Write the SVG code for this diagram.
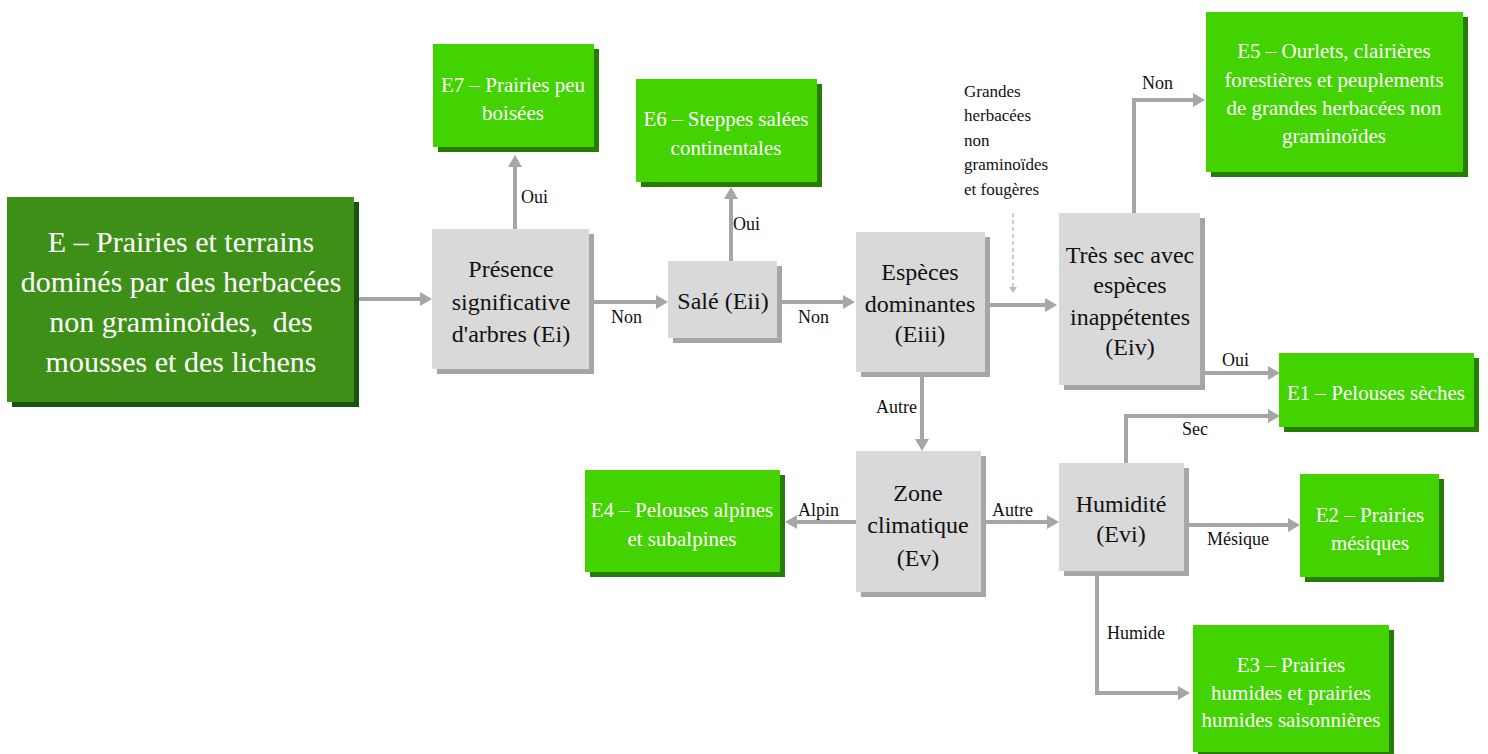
<svg xmlns="http://www.w3.org/2000/svg" width="1488" height="754" viewBox="0 0 1488 754" font-family="'Liberation Serif', 'Times New Roman', serif">
  <style>
    .shadow-dark { fill: #1e520a; }
    .shadow-green { fill: #277c02; }
    .shadow-gray { fill: #a6a6a6; }
    .root { fill: #3d8f17; }
    .leaf { fill: #43d300; }
    .test { fill: #d9d9d9; }
    .t-root { font-family: 'Liberation Serif', serif; font-size: 30px; fill: #ffffff; text-anchor: middle; }
    .t-leaf { font-family: 'Liberation Serif', serif; font-size: 21px; fill: #ffffff; text-anchor: middle; }
    .t-test { font-family: 'Liberation Serif', serif; font-size: 24px; fill: #111111; text-anchor: middle; }
    .t-lab { font-family: 'Liberation Serif', serif; font-size: 18px; fill: #111111; }
    .t-note { font-family: 'Liberation Serif', serif; font-size: 17px; fill: #111111; }
    .link { fill: none; stroke: #a6a6a6; stroke-width: 4; marker-end: url(#head); }
    .hint { fill: none; stroke: #bdbdbd; stroke-width: 1.5; stroke-dasharray: 4 3; marker-end: url(#head-small); }
  </style>
  <defs>
    <marker id="head" viewBox="0 -7 12 14" refX="0" refY="0" markerWidth="12" markerHeight="14" markerUnits="userSpaceOnUse" orient="auto">
      <path d="M0,-7 L12,0 L0,7 z" fill="#a6a6a6"/>
    </marker>
    <marker id="head-small" viewBox="0 -4 6 8" refX="0" refY="0" markerWidth="6" markerHeight="8" markerUnits="userSpaceOnUse" orient="auto">
      <path d="M0,-4 L6,0 L0,4 z" fill="#bdbdbd"/>
    </marker>
  </defs>

  <!-- connectors -->
  <g id="connectors">
    <path class="link" d="M358,299 H420"/>
    <path class="link" d="M515,229 V167"/>
    <path class="link" d="M593,302 H656"/>
    <path class="link" d="M731,261 V199"/>
    <path class="link" d="M782,302 H843"/>
    <path class="link" d="M989,305 H1045"/>
    <path class="link" d="M1134,213 V100 H1193"/>
    <path class="link" d="M1205,373 H1268"/>
    <path class="link" d="M922,377 V439"/>
    <path class="link" d="M856,522 H797"/>
    <path class="link" d="M986,522 H1047"/>
    <path class="link" d="M1126,463 V416 H1268"/>
    <path class="link" d="M1189,525 H1288"/>
    <path class="link" d="M1097,576 V693 H1178"/>
    <path class="hint" d="M1013,213 V287"/>

    <text class="t-lab" x="521" y="203">Oui</text>
    <text class="t-lab" x="611" y="323">Non</text>
    <text class="t-lab" x="733" y="230">Oui</text>
    <text class="t-lab" x="798" y="323">Non</text>
    <text class="t-lab" x="1142" y="89">Non</text>
    <text class="t-lab" x="1222" y="366">Oui</text>
    <text class="t-lab" x="876" y="413">Autre</text>
    <text class="t-lab" x="798" y="516">Alpin</text>
    <text class="t-lab" x="992" y="516">Autre</text>
    <text class="t-lab" x="1182" y="435">Sec</text>
    <text class="t-lab" x="1207" y="545">Mésique</text>
    <text class="t-lab" x="1107" y="639">Humide</text>

    <g id="note-grandes">
      <text class="t-note" x="964" y="97">Grandes</text>
      <text class="t-note" x="964" y="121">herbacées</text>
      <text class="t-note" x="964" y="146">non</text>
      <text class="t-note" x="964" y="170">graminoïdes</text>
      <text class="t-note" x="964" y="195">et fougères</text>
    </g>
  </g>

  <!-- root -->
  <g id="node-E">
    <rect class="shadow-dark" x="12" y="202" width="347" height="205"/>
    <rect class="root" x="7" y="197" width="347" height="205"/>
    <text class="t-root" x="181" y="252">E – Prairies et terrains</text>
    <text class="t-root" x="181" y="292">dominés par des herbacées</text>
    <text class="t-root" x="181" y="332" xml:space="preserve">non graminoïdes,  des</text>
    <text class="t-root" x="181" y="372">mousses et des lichens</text>
  </g>

  <!-- tests -->
  <g id="node-Ei">
    <rect class="shadow-gray" x="437" y="234" width="157" height="140"/>
    <rect class="test" x="432" y="229" width="157" height="140"/>
    <text class="t-test" x="511" y="277">Présence</text>
    <text class="t-test" x="511" y="310">significative</text>
    <text class="t-test" x="511" y="342">d'arbres (Ei)</text>
  </g>

  <g id="node-Eii">
    <rect class="shadow-gray" x="673" y="266" width="109" height="77"/>
    <rect class="test" x="668" y="261" width="109" height="77"/>
    <text class="t-test" x="723" y="309">Salé (Eii)</text>
  </g>

  <g id="node-Eiii">
    <rect class="shadow-gray" x="861" y="237" width="129" height="140"/>
    <rect class="test" x="856" y="232" width="129" height="140"/>
    <text class="t-test" x="920" y="280">Espèces</text>
    <text class="t-test" x="920" y="312">dominantes</text>
    <text class="t-test" x="920" y="342">(Eiii)</text>
  </g>

  <g id="node-Eiv">
    <rect class="shadow-gray" x="1064" y="218" width="141" height="172"/>
    <rect class="test" x="1059" y="213" width="141" height="172"/>
    <text class="t-test" x="1130" y="263">Très sec avec</text>
    <text class="t-test" x="1130" y="293">espèces</text>
    <text class="t-test" x="1130" y="325">inappétentes</text>
    <text class="t-test" x="1130" y="355">(Eiv)</text>
  </g>

  <g id="node-Ev">
    <rect class="shadow-gray" x="861" y="456" width="125" height="141"/>
    <rect class="test" x="856" y="451" width="125" height="141"/>
    <text class="t-test" x="918" y="501">Zone</text>
    <text class="t-test" x="918" y="533">climatique</text>
    <text class="t-test" x="918" y="566">(Ev)</text>
  </g>

  <g id="node-Evi">
    <rect class="shadow-gray" x="1064" y="468" width="125" height="108"/>
    <rect class="test" x="1059" y="463" width="125" height="108"/>
    <text class="t-test" x="1121" y="512">Humidité</text>
    <text class="t-test" x="1121" y="542">(Evi)</text>
  </g>

  <!-- habitat classes -->
  <g id="node-E7">
    <rect class="shadow-green" x="438" y="49" width="161" height="103"/>
    <rect class="leaf" x="433" y="44" width="161" height="103"/>
    <text class="t-leaf" x="513" y="92">E7 – Prairies peu</text>
    <text class="t-leaf" x="513" y="120">boisées</text>
  </g>

  <g id="node-E6">
    <rect class="shadow-green" x="641" y="84" width="181" height="103"/>
    <rect class="leaf" x="636" y="79" width="181" height="103"/>
    <text class="t-leaf" x="726" y="126">E6 – Steppes salées</text>
    <text class="t-leaf" x="726" y="155">continentales</text>
  </g>

  <g id="node-E5">
    <rect class="shadow-green" x="1211" y="17" width="257" height="160"/>
    <rect class="leaf" x="1206" y="12" width="257" height="160"/>
    <text class="t-leaf" x="1334" y="58">E5 – Ourlets, clairières</text>
    <text class="t-leaf" x="1334" y="87">forestières et peuplements</text>
    <text class="t-leaf" x="1334" y="115">de grandes herbacées non</text>
    <text class="t-leaf" x="1334" y="143">graminoïdes</text>
  </g>

  <g id="node-E1">
    <rect class="shadow-green" x="1284" y="358" width="195" height="74"/>
    <rect class="leaf" x="1279" y="353" width="195" height="74"/>
    <text class="t-leaf" x="1376" y="400">E1 – Pelouses sèches</text>
  </g>

  <g id="node-E2">
    <rect class="shadow-green" x="1305" y="479" width="139" height="103"/>
    <rect class="leaf" x="1300" y="474" width="139" height="103"/>
    <text class="t-leaf" x="1370" y="522">E2 – Prairies</text>
    <text class="t-leaf" x="1370" y="550">mésiques</text>
  </g>

  <g id="node-E3">
    <rect class="shadow-green" x="1198" y="630" width="196" height="127"/>
    <rect class="leaf" x="1193" y="625" width="196" height="127"/>
    <text class="t-leaf" x="1291" y="672">E3 – Prairies</text>
    <text class="t-leaf" x="1291" y="700">humides et prairies</text>
    <text class="t-leaf" x="1291" y="727">humides saisonnières</text>
  </g>

  <g id="node-E4">
    <rect class="shadow-green" x="590" y="475" width="195" height="102"/>
    <rect class="leaf" x="585" y="470" width="195" height="102"/>
    <text class="t-leaf" x="682" y="517">E4 – Pelouses alpines</text>
    <text class="t-leaf" x="682" y="546">et subalpines</text>
  </g>
</svg>
